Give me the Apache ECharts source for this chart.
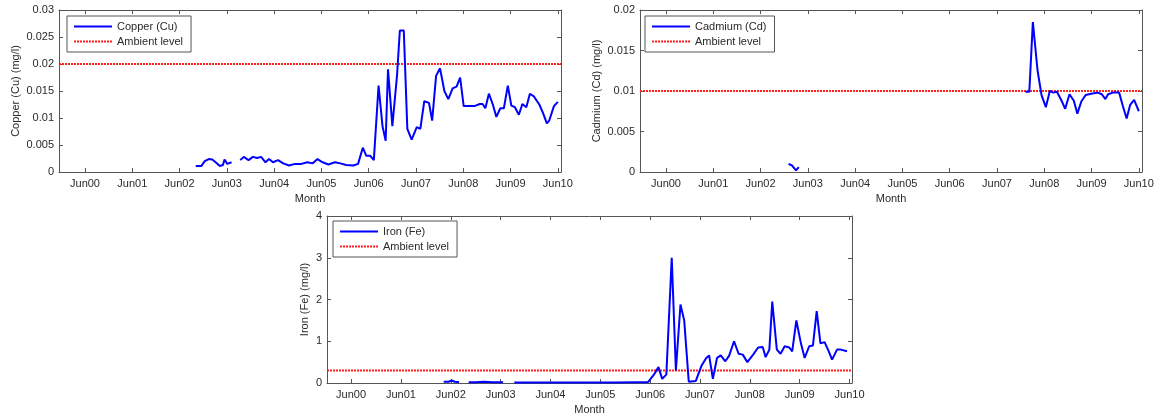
<!DOCTYPE html>
<html lang="en">

<head>
    <meta charset="UTF-8">
    <title>Metals</title>
    <script src="https://cdn.jsdelivr.net/npm/echarts@6/dist/echarts.min.js"></script>
    <style>
        html, body { margin: 0; padding: 0; background: #fff; }
        #main { width: 1158px; height: 417px; }
    </style>
</head>

<body>
    <div id="main"></div>
    <script>
        // x values are months counted from Jan 2000 (Jun00 = 5)
        const tickMonths = [5, 17, 29, 41, 53, 65, 77, 89, 101, 113, 125];
        const tickLabels = ['Jun00', 'Jun01', 'Jun02', 'Jun03', 'Jun04', 'Jun05', 'Jun06', 'Jun07', 'Jun08', 'Jun09', 'Jun10'];

        // copper, null = gap in the record
        const cuMonths = [33.1, 34.5, 35.4, 36.4, 37.3, 38.3, 39.2, 40.0, 40.4, 41.1, 41.6, 42.2, 43.3,
            44.4, 45.3, 46.5, 47.6, 48.7, 49.7, 50.8, 51.7, 52.7, 54.0, 55.3, 56.8, 58.3, 59.9, 61.4, 62.8,
            64.0, 65.3, 66.8, 68.4, 69.8, 71.3, 73.1, 74.3, 75.5, 76.4, 77.4, 78.3, 79.5, 80.5, 81.3, 81.9,
            83.0, 84.2, 84.9, 85.9, 86.8, 87.9, 89.2, 90.1, 91.1, 92.3, 93.1, 94.1, 95.1, 96.2, 97.2, 98.3,
            99.3, 100.2, 101.1, 102.4, 103.8, 105.2, 105.9, 106.6, 107.5, 108.5, 109.4, 110.4, 111.3, 112.3,
            113.2, 114.1, 115.1, 116.0, 117.0, 117.9, 118.9, 120.3, 121.2, 122.2, 122.8, 124.0, 125.0];
        const cuValues = [0.0011, 0.0011, 0.0020, 0.0024, 0.0023, 0.0017, 0.0011, 0.0013, 0.0023, 0.0015, 0.0018, 0.0018, null,
            0.0022, 0.0028, 0.0022, 0.0028, 0.0026, 0.0028, 0.0018, 0.0024, 0.0018, 0.0022, 0.0016, 0.0012, 0.0015, 0.0015, 0.0018, 0.0016,
            0.0024, 0.0018, 0.0014, 0.0018, 0.0016, 0.0013, 0.0012, 0.0015, 0.0045, 0.0030, 0.0030, 0.0022, 0.0160, 0.0085, 0.0058, 0.0190,
            0.0085, 0.0180, 0.0262, 0.0262, 0.0080, 0.0060, 0.0083, 0.0080, 0.0131, 0.0128, 0.0095, 0.0178, 0.0192, 0.0150, 0.0135, 0.0155,
            0.0158, 0.0175, 0.0122, 0.0122, 0.0122, 0.0126, 0.0126, 0.0118, 0.0145, 0.0125, 0.0102, 0.0118, 0.0118, 0.0160,
            0.0123, 0.0120, 0.0106, 0.0126, 0.0120, 0.0145, 0.0140, 0.0125, 0.0110, 0.0090, 0.0095, 0.0122, 0.0130];

        // cadmium
        const cdMonths = [36.1, 37.0, 38.0, 38.7, 40.0,
            96.2, 97.2, 98.1, 99.3, 100.3, 101.4, 102.4, 103.3, 104.2, 105.5, 106.3, 107.4, 108.5, 109.4, 110.4,
            111.5, 113.2, 114.6, 115.6, 116.5, 117.2, 118.4, 120.0, 120.9, 121.9, 122.8, 123.8, 125.0];
        const cdValues = [0.0010, 0.0008, 0.0002, 0.0006, null,
            0.0099, 0.0099, 0.0185, 0.0125, 0.0095, 0.0080, 0.0100, 0.0098, 0.0099, 0.0087, 0.0078, 0.0096, 0.0088, 0.0072, 0.0087,
            0.0095, 0.0097, 0.0098, 0.0096, 0.0090, 0.0096, 0.0098, 0.0098, 0.0082, 0.0066, 0.0083, 0.0089, 0.0075];

        // iron
        const feMonths = [27.3, 28.5, 29.2, 30.0, 31.0, 32.0,
            33.3, 35.0, 37.0, 39.0, 41.6, 43.0,
            44.3, 50.0, 56.0, 62.0, 68.0, 74.0, 76.5, 77.9, 79.0, 79.9, 80.9, 82.2, 83.2, 84.3, 85.2, 86.3, 88.0,
            89.4, 90.5, 91.2, 92.1, 93.1, 94.0, 95.1, 96.0, 97.2, 98.3, 99.3, 100.4, 101.8, 103.0, 104.1, 104.8,
            105.7, 106.4, 107.5, 108.4, 109.4, 110.5, 111.2, 112.2, 113.3, 114.2, 115.3, 116.2, 117.1, 118.0,
            119.0, 119.9, 120.8, 122.0, 122.9, 124.4];
        const feValues = [0.03, 0.03, 0.06, 0.03, 0.02, null,
            0.02, 0.02, 0.03, 0.02, 0.02, null,
            0.01, 0.01, 0.01, 0.01, 0.01, 0.02, 0.02, 0.20, 0.38, 0.10, 0.20, 3.00, 0.30, 1.88, 1.50, 0.03, 0.05,
            0.42, 0.60, 0.66, 0.10, 0.60, 0.66, 0.52, 0.65, 1.00, 0.70, 0.68, 0.50, 0.68, 0.85, 0.86, 0.62,
            0.80, 1.95, 0.80, 0.70, 0.88, 0.85, 0.76, 1.50, 0.95, 0.60, 0.88, 0.90, 1.72, 0.95,
            0.98, 0.78, 0.56, 0.80, 0.80, 0.76];

        // ambient levels
        const ambientCu = 0.02;
        const ambientCd = 0.01;
        const ambientFe = 0.3;

        function pairs(xs, ys) {
            return xs.map(function (x, i) { return [x, ys[i] === null ? '-' : ys[i]]; });
        }

        const font = 'Liberation Sans';
        const txt = '#2a2a2a';
        const axisCol = '#555';
        const grids = [
            { left: 59, top: 10, width: 502, height: 162, xmin: -1.6, xmax: 125.8, ymax: 0.03, yint: 0.005, yname: 'Copper (Cu) (mg/l)', ygap: 38 },
            { left: 640, top: 10, width: 502, height: 162, xmin: -1.6, xmax: 125.8, ymax: 0.02, yint: 0.005, yname: 'Cadmium (Cd) (mg/l)', ygap: 38 },
            { left: 327, top: 216, width: 525, height: 167, xmin: -0.8, xmax: 125.6, ymax: 4, yint: 1, yname: 'Iron (Fe) (mg/l)', ygap: 17 }
        ];

        let xAxes = [], yAxes = [];
        grids.forEach(function (g, i) {
            const xtick = { show: true, inside: true, length: 4, lineStyle: { color: axisCol }, customValues: tickMonths };
            const ytick = { show: true, inside: true, length: 4, lineStyle: { color: axisCol } };
            const line = { show: true, onZero: false, lineStyle: { color: axisCol } };
            xAxes.push({
                type: 'value', gridIndex: i, min: g.xmin, max: g.xmax, position: 'bottom',
                name: 'Month', nameLocation: 'middle', nameGap: 21,
                nameTextStyle: { fontFamily: font, fontSize: 11, color: txt },
                axisLine: line, axisTick: xtick, splitLine: { show: false },
                axisLabel: {
                    customValues: tickMonths, fontFamily: font, fontSize: 11, color: txt, margin: 6,
                    formatter: function (v) { return tickLabels[tickMonths.indexOf(v)]; }
                }
            });
            xAxes.push({
                type: 'value', gridIndex: i, min: g.xmin, max: g.xmax, position: 'top',
                axisLine: line, axisTick: xtick, axisLabel: { show: false }, splitLine: { show: false }
            });
            yAxes.push({
                type: 'value', gridIndex: i, min: 0, max: g.ymax, interval: g.yint, position: 'left',
                name: g.yname, nameLocation: 'middle', nameRotate: 90, nameGap: g.ygap,
                nameTextStyle: { fontFamily: font, fontSize: 11, color: txt },
                axisLine: line, axisTick: ytick, splitLine: { show: false },
                axisLabel: { fontFamily: font, fontSize: 11, color: txt, margin: 5 }
            });
            yAxes.push({
                type: 'value', gridIndex: i, min: 0, max: g.ymax, interval: g.yint, position: 'right',
                axisLine: line, axisTick: ytick, splitLine: { show: false }, axisLabel: { show: false }
            });
        });

        function metal(name, idx, data) {
            return {
                name: name, type: 'line', xAxisIndex: idx * 2, yAxisIndex: idx * 2,
                data: data, symbol: 'none', connectNulls: false, z: 3,
                lineStyle: { color: '#0000ff', width: 2 }, itemStyle: { color: '#0000ff' }
            };
        }
        function ambient(idx, level) {
            const g = grids[idx];
            return {
                name: 'Ambient level', type: 'line', xAxisIndex: idx * 2, yAxisIndex: idx * 2,
                data: [[g.xmin, level], [g.xmax, level]], symbol: 'none', z: 2,
                lineStyle: { color: '#ff2020', width: 2, type: [2, 1] }, itemStyle: { color: '#ff2020' }
            };
        }

        function legend(left, top, first) {
            return {
                data: [first, 'Ambient level'], left: left, top: top, orient: 'vertical',
                backgroundColor: '#fff', borderColor: '#555', borderWidth: 1, borderRadius: 0,
                padding: [5, 8, 5, 6], itemGap: 4, itemWidth: 38, itemHeight: 10,
                itemStyle: { opacity: 0 },
                textStyle: { fontFamily: font, fontSize: 11, color: txt },
                selectedMode: false
            };
        }

        let myChart = echarts.init(document.getElementById('main'));
        let option = {
            animation: false,
            backgroundColor: '#fff',
            grid: grids.map(function (g) {
                return { left: g.left, top: g.top, width: g.width, height: g.height, show: false };
            }),
            xAxis: xAxes,
            yAxis: yAxes,
            legend: [
                legend(67, 16, 'Copper (Cu)'),
                legend(645, 16, 'Cadmium (Cd)'),
                legend(333, 221, 'Iron (Fe)')
            ],
            series: [
                metal('Copper (Cu)', 0, pairs(cuMonths, cuValues)),
                ambient(0, ambientCu),
                metal('Cadmium (Cd)', 1, pairs(cdMonths, cdValues)),
                ambient(1, ambientCd),
                metal('Iron (Fe)', 2, pairs(feMonths, feValues)),
                ambient(2, ambientFe)
            ]
        };
        myChart.setOption(option);
    </script>
</body>

</html>
